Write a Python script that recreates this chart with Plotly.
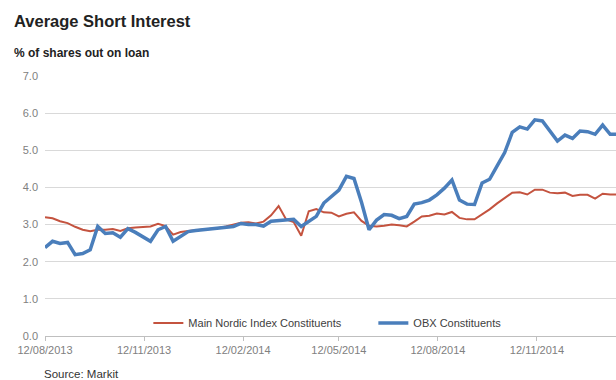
import plotly.graph_objects as go
import pandas as pd

# Weekly observation dates
dates = pd.date_range("2013-08-12", periods=77, freq="7D")

main_nordic = [3.20, 3.17, 3.09, 3.04, 2.94, 2.86, 2.82, 2.86, 2.86, 2.88,
               2.83, 2.90, 2.92, 2.93, 2.95, 3.02, 2.96, 2.73, 2.80, 2.83,
               2.85, 2.87, 2.88, 2.91, 2.95, 3.00, 3.05, 3.06, 3.03, 3.08,
               3.25, 3.50, 3.14, 3.07, 2.70, 3.36, 3.42, 3.33, 3.32, 3.22,
               3.29, 3.33, 3.10, 2.97, 2.95, 2.97, 3.00, 2.98, 2.95, 3.08,
               3.22, 3.24, 3.30, 3.27, 3.34, 3.18, 3.14, 3.14, 3.27, 3.41,
               3.57, 3.71, 3.86, 3.87, 3.81, 3.94, 3.94, 3.86, 3.84, 3.86,
               3.77, 3.80, 3.80, 3.70, 3.83, 3.81, 3.81]

obx = [2.38, 2.55, 2.49, 2.52, 2.19, 2.22, 2.32, 2.95, 2.76, 2.78,
       2.66, 2.89, 2.79, 2.68, 2.55, 2.86, 2.95, 2.55, 2.68, 2.81,
       2.84, 2.86, 2.87, 2.89, 2.92, 2.95, 3.03, 3.00, 3.00, 2.96,
       3.09, 3.10, 3.11, 3.14, 2.95, 3.08, 3.22, 3.58, 3.75, 3.93,
       4.30, 4.24, 3.60, 2.86, 3.12, 3.27, 3.25, 3.16, 3.22, 3.55,
       3.59, 3.66, 3.80, 3.98, 4.20, 3.66, 3.55, 3.54, 4.12, 4.22,
       4.58, 4.94, 5.48, 5.63, 5.57, 5.82, 5.79, 5.52, 5.25, 5.41,
       5.32, 5.52, 5.50, 5.43, 5.68, 5.43, 5.43]

tick_dates = ["2013-08-12", "2013-11-12", "2014-02-12", "2014-05-12", "2014-08-12", "2014-11-12"]
tick_labels = ["12/08/2013", "12/11/2013", "12/02/2014", "12/05/2014", "12/08/2014", "12/11/2014"]
y_ticks = [0, 1, 2, 3, 4, 5, 6, 7]
y_labels = ["0.0", "1.0", "2.0", "3.0", "4.0", "5.0", "6.0", "7.0"]

FONT = "Liberation Sans, Arial, sans-serif"

fig = go.Figure()
fig.add_trace(go.Scatter(x=dates, y=main_nordic, mode="lines",
                         name="Main Nordic Index Constituents",
                         line=dict(color="#C4533F", width=2)))
fig.add_trace(go.Scatter(x=dates, y=obx, mode="lines",
                         name="OBX Constituents",
                         line=dict(color="#4A7EBB", width=3.5)))

x_end = pd.Timestamp("2013-08-12") + pd.Timedelta(days=530.4)

fig.update_layout(
    width=616, height=380,
    margin=dict(l=45, r=0, t=76, b=44),
    paper_bgcolor="white", plot_bgcolor="white",
    font=dict(family=FONT, size=11, color="#404040"),
    showlegend=True,
    legend=dict(orientation="h", x=0.181, y=0.05, xanchor="left", yanchor="middle",
                bgcolor="rgba(0,0,0,0)", font=dict(size=11, color="#404040"),
                entrywidth=180, entrywidthmode="pixels"),
    xaxis=dict(type="date", range=[dates[0], x_end],
               tickvals=tick_dates, ticktext=tick_labels,
               showgrid=False, showline=True, linecolor="#BFBFBF", linewidth=1,
               ticks="outside", ticklen=4, tickcolor="#BFBFBF",
               tickfont=dict(size=11, color="#808080")),
    yaxis=dict(range=[0, 7], tickvals=y_ticks, ticktext=y_labels,
               showgrid=True, gridcolor="#D9D9D9", gridwidth=1,
               zeroline=False, showline=False, ticks="",
               ticklabelstandoff=6,
               tickfont=dict(size=11, color="#808080")),
    annotations=[
        dict(text="<b>Average Short Interest</b>", xref="paper", yref="paper",
             x=(12 - 45) / 571, y=(336 - 21) / 260, xanchor="left", yanchor="middle",
             showarrow=False, font=dict(size=16.5, color="#222222", family=FONT)),
        dict(text="<b>% of shares out on loan</b>", xref="paper", yref="paper",
             x=(12 - 45) / 571, y=(336 - 53) / 260, xanchor="left", yanchor="middle",
             showarrow=False, font=dict(size=12, color="#222222", family=FONT)),
        dict(text="Source: Markit", xref="paper", yref="paper",
             x=(42 - 45) / 571, y=(336 - 374) / 260, xanchor="left", yanchor="middle",
             showarrow=False, font=dict(size=11.5, color="#333333", family=FONT)),
    ],
)

fig.write_html("out.html")
